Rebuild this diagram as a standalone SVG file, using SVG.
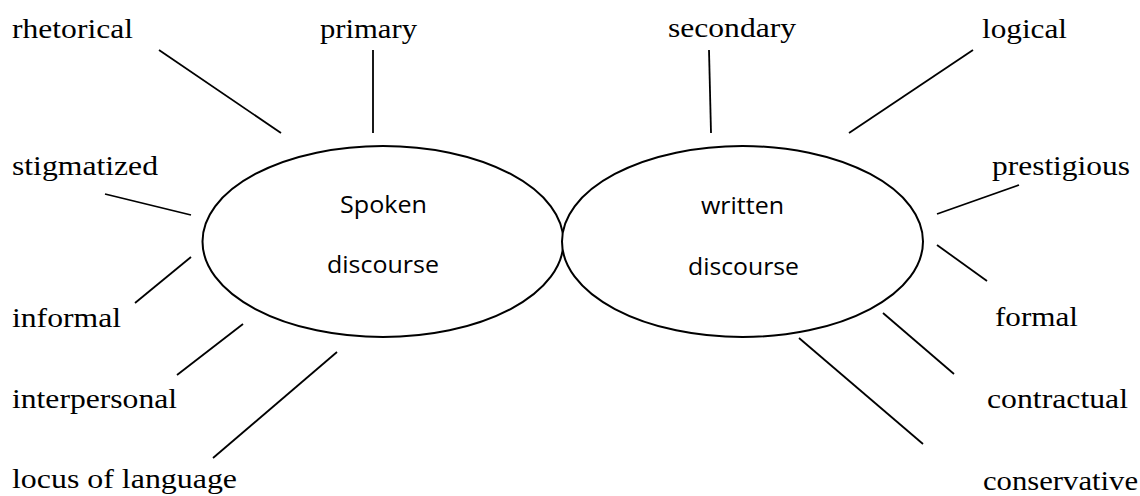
<svg xmlns="http://www.w3.org/2000/svg" width="1140" height="496" viewBox="0 0 1140 496">
  <style>
    .bg { fill: #ffffff; }
    .node { fill: #ffffff; stroke: #000000; stroke-width: 2; }
    .center { font-family: "Open Sans", "Noto Sans", sans-serif; font-size: 24px; fill: #000000; }
    .label { font-family: "Liberation Serif", "Times New Roman", serif; font-size: 28px; fill: #000000; }
    .links line { stroke: #000000; stroke-width: 1.8; stroke-linecap: butt; }
  </style>
  <rect class="bg" x="0" y="0" width="1140" height="496"/>

  <!-- central ellipses -->
  <g id="spoken-discourse">
    <ellipse class="node" cx="383" cy="241.5" rx="180.5" ry="95.5"/>
    <text class="center" x="340" y="213" textLength="87" lengthAdjust="spacingAndGlyphs">Spoken</text>
    <text class="center" x="327" y="273" textLength="112" lengthAdjust="spacingAndGlyphs">discourse</text>
  </g>
  <g id="written-discourse">
    <ellipse class="node" cx="742.5" cy="241.5" rx="180.5" ry="95.5"/>
    <text class="center" x="701" y="214" textLength="83" lengthAdjust="spacingAndGlyphs">written</text>
    <text class="center" x="688" y="275" textLength="111" lengthAdjust="spacingAndGlyphs">discourse</text>
  </g>

  <!-- spoken discourse attributes -->
  <g id="rhetorical"><text class="label" x="12" y="38" textLength="121" lengthAdjust="spacingAndGlyphs">rhetorical</text></g>
  <g id="primary"><text class="label" x="320" y="38" textLength="97" lengthAdjust="spacingAndGlyphs">primary</text></g>
  <g id="stigmatized"><text class="label" x="12" y="175" textLength="146" lengthAdjust="spacingAndGlyphs">stigmatized</text></g>
  <g id="informal"><text class="label" x="12" y="327" textLength="109" lengthAdjust="spacingAndGlyphs">informal</text></g>
  <g id="interpersonal"><text class="label" x="12" y="408" textLength="165" lengthAdjust="spacingAndGlyphs">interpersonal</text></g>
  <g id="locus-of-language"><text class="label" x="12" y="488" textLength="225" lengthAdjust="spacingAndGlyphs">locus of language</text></g>

  <!-- written discourse attributes -->
  <g id="secondary"><text class="label" x="668" y="37" textLength="128" lengthAdjust="spacingAndGlyphs">secondary</text></g>
  <g id="logical"><text class="label" x="982" y="38" textLength="85" lengthAdjust="spacingAndGlyphs">logical</text></g>
  <g id="prestigious"><text class="label" x="992" y="175" textLength="138" lengthAdjust="spacingAndGlyphs">prestigious</text></g>
  <g id="formal"><text class="label" x="995" y="326" textLength="83" lengthAdjust="spacingAndGlyphs">formal</text></g>
  <g id="contractual"><text class="label" x="987" y="408" textLength="141" lengthAdjust="spacingAndGlyphs">contractual</text></g>
  <g id="conservative"><text class="label" x="983" y="490" textLength="155" lengthAdjust="spacingAndGlyphs">conservative</text></g>

  <!-- connectors -->
  <g id="connectors" class="links">
    <line x1="159" y1="50" x2="281" y2="133"/>
    <line x1="373" y1="50" x2="373" y2="133"/>
    <line x1="105" y1="194" x2="191" y2="215"/>
    <line x1="191" y1="257" x2="135" y2="303"/>
    <line x1="243" y1="324" x2="177" y2="375"/>
    <line x1="337" y1="352" x2="213" y2="458"/>
    <line x1="709" y1="50" x2="711" y2="133"/>
    <line x1="973" y1="50" x2="849" y2="133"/>
    <line x1="1019" y1="185" x2="937" y2="214"/>
    <line x1="937" y1="245" x2="987" y2="281"/>
    <line x1="883" y1="313" x2="954" y2="374"/>
    <line x1="799" y1="338" x2="923" y2="444"/>
  </g>
</svg>
